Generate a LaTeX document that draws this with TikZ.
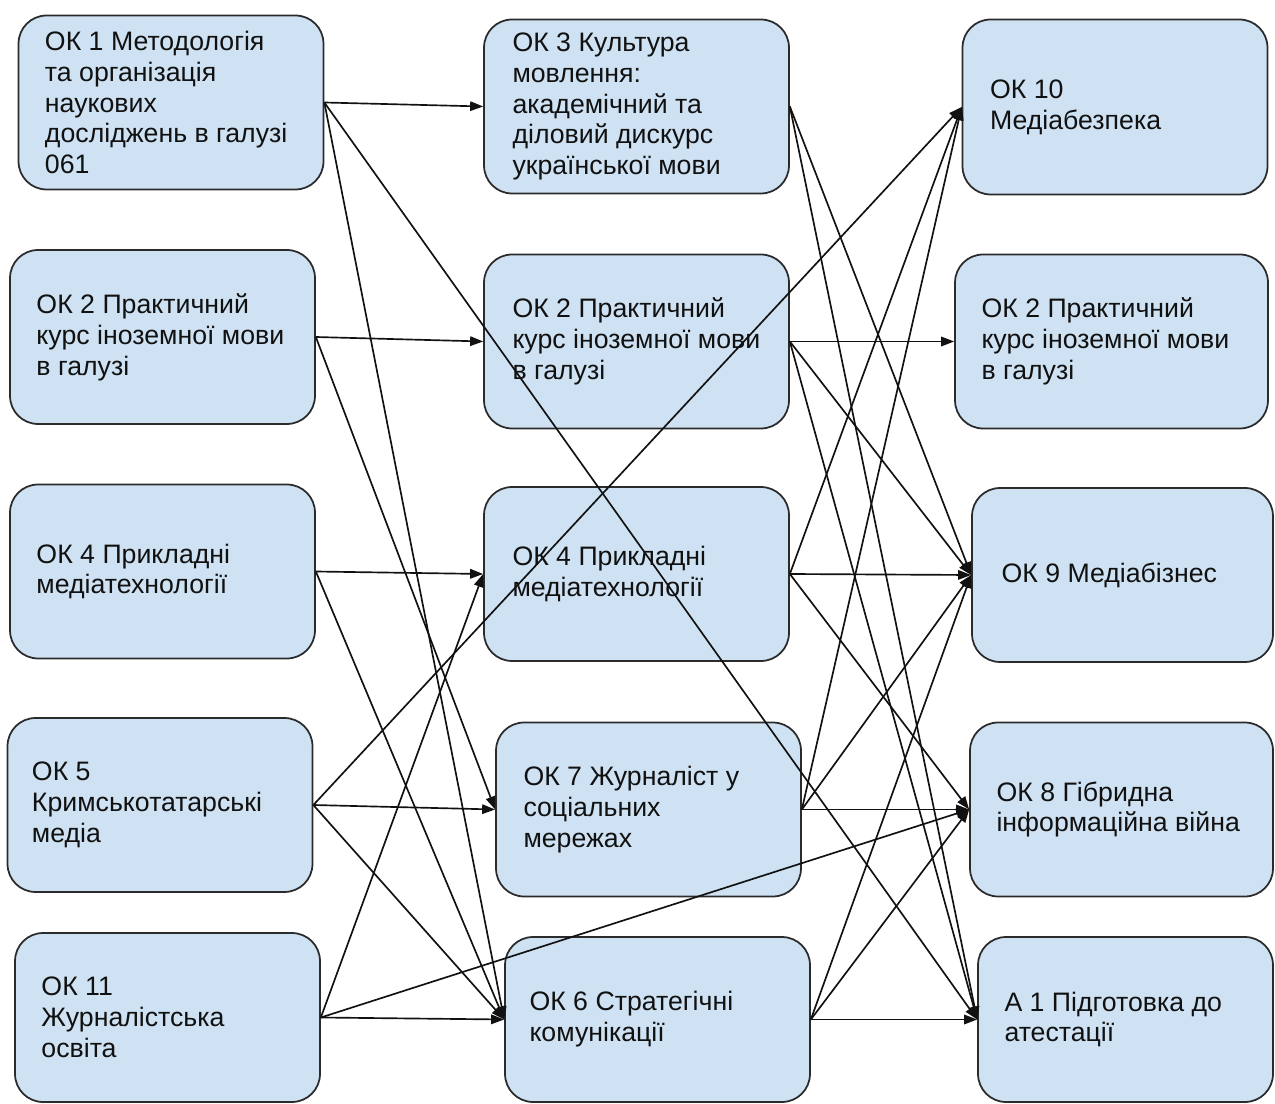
\documentclass[tikz,border=0pt]{standalone}
\usepackage{fontspec}
\setmainfont{Liberation Sans}
\usepackage{xcolor}
\usepackage{tikz}
\usetikzlibrary{positioning,arrows.meta}
\definecolor{ink}{HTML}{111111}
\definecolor{edge}{HTML}{2B2B2B}
\definecolor{card}{HTML}{CFE2F3}
\tikzset{
  box/.style={draw=edge, fill=card, line width=1pt, rounded corners=0.56cm,
    minimum width=6.1cm, minimum height=3.48cm, inner sep=0pt},
  lbl/.style={text=ink, font=\fontsize{15.2}{17.6}\selectfont, align=left, inner sep=0pt},
  link/.style={draw=ink, line width=0.95pt, -{Triangle[length=0.26cm,width=0.19cm]}}
}

\begin{document}
\begin{tikzpicture}[x=0.02cm, y=-0.02cm]
  \useasboundingbox (0,0) rectangle (1275,1104);

  % left column
  \node[box] (L1) at (171,102.5) {};
  \node[box] (L2) at (162.5,337) {};
  \node[box] (L3) at (162.5,571.5) {};
  \node[box] (L4) at (160,805) {};
  \node[box, minimum height=3.38cm] (L5) at (167.5,1017.5) {};

  % middle column
  \node[box] (M1) at (636.5,106.5) {};
  \node[box] (M2) at (636.5,341.5) {};
  \node[box] (M3) at (636.5,574) {};
  \node[box] (M4) at (648.5,809.5) {};
  \node[box, minimum height=3.3cm] (M5) at (657.5,1019.5) {};

  % right column
  \node[box, minimum height=3.5cm] (R1) at (1115,107) {};
  \node[box, minimum width=6.26cm] (R2) at (1111.5,341.5) {};
  \node[box, minimum width=6.02cm] (R3) at (1122.5,575) {};
  \node[box, minimum width=6.06cm] (R4) at (1121.5,809.5) {};
  \node[box, minimum width=5.9cm, minimum height=3.3cm] (R5) at (1125.5,1019.5) {};

  \node[lbl, right=0.54cm of L1.west] (L1txt) {ОК 1 Методологія\\та організація\\наукових\\досліджень в галузі\\061};
  \node[lbl, right=0.54cm of L2.west] (L2txt) {ОК 2 Практичний\\курс іноземної мови\\в галузі};
  \node[lbl, right=0.54cm of L3.west] (L3txt) {ОК 4 Прикладні\\медіатехнології};
  \node[lbl, right=0.5cm of L4.west] (L4txt) {ОК 5\\Кримськотатарські\\медіа};
  \node[lbl, right=0.54cm of L5.west] (L5txt) {ОК 11\\Журналістська\\освіта};

  \node[lbl, right=0.58cm of M1.west] (M1txt) {ОК 3 Культура\\мовлення:\\академічний та\\діловий дискурс\\української мови};
  \node[lbl, right=0.58cm of M2.west] (M2txt) {ОК 2 Практичний\\курс іноземної мови\\в галузі};
  \node[lbl, right=0.58cm of M3.west] (M3txt) {ОК 4 Прикладні\\медіатехнології};
  \node[lbl, right=0.56cm of M4.west] (M4txt) {ОК 7 Журналіст у\\соціальних\\мережах};
  \node[lbl, right=0.5cm of M5.west] (M5txt) {ОК 6 Стратегічні\\комунікації};

  \node[lbl, right=0.56cm of R1.west] (R1txt) {ОК 10\\Медіабезпека};
  \node[lbl, right=0.54cm of R2.west] (R2txt) {ОК 2 Практичний\\курс іноземної мови\\в галузі};
  \node[lbl, right=0.6cm of R3.west] (R3txt) {ОК 9 Медіабізнес};
  \node[lbl, right=0.54cm of R4.west] (R4txt) {ОК 8 Гібридна\\інформаційна війна};
  \node[lbl, right=0.54cm of R5.west] (R5txt) {А 1 Підготовка до\\атестації};

  % links
  \draw[link] (L1.east) -- (M1.west);
  \draw[link] (L1.east) -- (M5.west);
  \draw[link] (L1.east) -- (R5.west);
  \draw[link] (L2.east) -- (M2.west);
  \draw[link] (L2.east) -- (M4.west);
  \draw[link] (L3.east) -- (M3.west);
  \draw[link] (L3.east) -- (M5.west);
  \draw[link] (L4.east) -- (M4.west);
  \draw[link] (L4.east) -- (R1.west);
  \draw[link] (L4.east) -- (M5.west);
  \draw[link] (L5.east) -- (M5.west);
  \draw[link] (L5.east) -- (M3.west);
  \draw[link] (L5.east) -- (R4.west);

  \draw[link] (M1.east) -- (R3.west);
  \draw[link] (M1.east) -- (R5.west);
  \draw[link] (M2.east) -- (R2.west);
  \draw[link] (M2.east) -- (R3.west);
  \draw[link] (M2.east) -- (R5.west);
  \draw[link] (M3.east) -- (R3.west);
  \draw[link] (M3.east) -- (R1.west);
  \draw[link] (M3.east) -- (R4.west);
  \draw[link] (M4.east) -- (R4.west);
  \draw[link] (M4.east) -- (R1.west);
  \draw[link] (M4.east) -- (R3.west);
  \draw[link] (M5.east) -- (R5.west);
  \draw[link] (M5.east) -- (R3.west);
  \draw[link] (M5.east) -- (R4.west);
\end{tikzpicture}
\end{document}
